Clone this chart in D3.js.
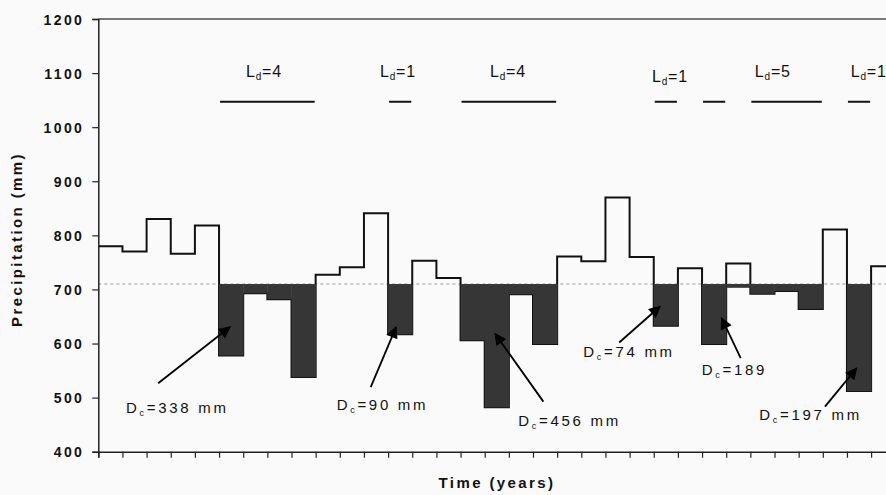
<!DOCTYPE html>
<html>
<head>
<meta charset="utf-8">
<script src="https://cdn.jsdelivr.net/npm/d3@7/dist/d3.min.js"></script>
<style>
  html, body { margin: 0; padding: 0; background: #fafafa; }
  svg { display: block; font-family: "Liberation Sans", Arial, sans-serif; }
</style>
</head>
<body>
<svg id="chart" width="886" height="495"></svg>
<script>
// ---------- data ----------
const years = d3.range(0, 33);
const precipitation = [780, 770, 830, 766, 818, 578, 693, 682, 538, 727, 741, 841, 617, 753, 721, 606, 482, 691, 599, 761, 752, 870, 760, 633, 739, 599, 748, 692, 697, 664, 811, 512, 743];
// bottom of the dark (deficit) fill for each year, null = no fill
const shadedTo = [null, null, null, null, null, 578, 693, 682, 538, null, null, null, 617, null, null, 606, 482, 691, 599, null, null, null, null, 633, null, 599, 703, 692, 697, 664, null, 512, null];
const threshold = 710;
const yTicks = [400, 500, 600, 700, 800, 900, 1000, 1100, 1200];

// drought-duration bars (start year, length in years)
const durStart = [5, 12, 15, 23, 25, 27, 31];
const durLength = [4, 1, 4, 1, 1, 3, 1];
// drought-duration labels: value, x position (years), baseline (mm)
const ldValues = ["4", "1", "4", "1", "5", "1"];
const ldX = [6.86, 12.41, 16.96, 23.67, 27.93, 31.9];
const ldY = [1092, 1092, 1092, 1083, 1092, 1092];

// cumulative deficit annotations
const dcText = ["=338 mm", "=90 mm", "=456 mm", "=74 mm", "=189", "=197 mm"];
const dcTextX = [1.15, 9.87, 17.39, 20.08, 24.99, 27.37];
const dcTextY = [472, 478, 447.6, 575.4, 542.6, 458];
const dcFromX = [2.48, 11.28, 18.43, 21.57, 26.6, 30.09];
const dcFromY = [526.7, 519.3, 492.6, 601.9, 573, 483.3];
const dcTipX = [5.45, 12.33, 16.43, 23.26, 25.81, 31.4];
const dcTipY = [630.4, 630.4, 618, 668.5, 647, 554.4];

// ---------- layout ----------
const svg = d3.select("#chart");
const mLeft = 98.3, mTop = 19, mBottom = 451.7, step = 24.15;
const x = d3.scaleLinear().domain([0, 33]).range([mLeft, mLeft + 33 * step]);
const y = d3.scaleLinear().domain([400, 1200]).range([mBottom, mTop]);

svg.append("rect").attr("width", 886).attr("height", 495).attr("fill", "#fafafa");

const defs = svg.append("defs");
defs.append("marker").attr("id", "arrow")
  .attr("viewBox", "0 0 10 10").attr("refX", 9).attr("refY", 5)
  .attr("markerUnits", "userSpaceOnUse")
  .attr("markerWidth", 15).attr("markerHeight", 12).attr("orient", "auto")
  .append("path").attr("d", "M0,0 L10,5 L0,10 Z").attr("fill", "#000");

// top border
svg.append("line").attr("x1", mLeft).attr("x2", 886).attr("y1", mTop).attr("y2", mTop)
  .attr("stroke", "#7a7a7a").attr("stroke-width", 2);

// threshold dashed line
svg.append("line").attr("x1", x(0)).attr("x2", x(33))
  .attr("y1", y(threshold)).attr("y2", y(threshold))
  .attr("stroke", "#9a9a9a").attr("stroke-width", 1).attr("stroke-dasharray", "3,3");

// step line
const pts = years.map(i => [i, precipitation[i]]).concat([[33, precipitation[32]]]);
svg.append("path")
  .attr("d", d3.line().x(d => x(d[0])).y(d => y(d[1])).curve(d3.curveStepAfter)(pts))
  .attr("fill", "none").attr("stroke", "#111").attr("stroke-width", 2);

// deficit fills (drawn over the line)
svg.append("g").selectAll("rect")
  .data(years.filter(i => shadedTo[i] !== null))
  .join("rect")
  .attr("x", i => x(i)).attr("width", i => x(i + 1) - x(i) + 0.4)
  .attr("y", y(threshold)).attr("height", i => y(shadedTo[i]) - y(threshold))
  .attr("fill", "#363636");

// axes
const yAxis = svg.append("g").attr("transform", `translate(${mLeft},0)`)
  .call(d3.axisLeft(y).tickValues(yTicks).tickSize(6).tickFormat(d3.format("d")));
yAxis.select(".domain").attr("stroke", "#222").attr("stroke-width", 1.5);
yAxis.selectAll(".tick line").attr("stroke", "#222").attr("stroke-width", 1.2);
yAxis.selectAll(".tick text")
  .attr("x", -14).attr("dy", "0.36em")
  .attr("font-size", 14).attr("font-weight", "bold").attr("letter-spacing", "2.4px")
  .attr("fill", "#111").attr("font-family", "Liberation Sans, Arial, sans-serif");

const xAxis = svg.append("g").attr("transform", `translate(0,${mBottom})`)
  .call(d3.axisBottom(x).tickValues(d3.range(0, 34)).tickSize(6).tickFormat(""));
xAxis.select(".domain").attr("stroke", "#222").attr("stroke-width", 1.5);
xAxis.selectAll(".tick line").attr("stroke", "#222").attr("stroke-width", 1.2);

// axis titles
svg.append("text")
  .attr("transform", `translate(21.5,${239.5}) rotate(-90)`)
  .attr("text-anchor", "middle").attr("font-size", 15).attr("font-weight", "bold")
  .attr("letter-spacing", "2.4px").attr("fill", "#111")
  .text("Precipitation (mm)");
svg.append("text")
  .attr("x", 497).attr("y", 488.3)
  .attr("text-anchor", "middle").attr("font-size", 15).attr("font-weight", "bold")
  .attr("letter-spacing", "2.4px").attr("fill", "#111")
  .text("Time (years)");

// duration bars
svg.append("g").selectAll("line")
  .data(durStart.map((s, k) => [s, durLength[k]]))
  .join("line")
  .attr("x1", d => x(d[0]) + 1).attr("x2", d => x(d[0] + d[1]) - 1)
  .attr("y1", y(1047)).attr("y2", y(1047))
  .attr("stroke", "#111").attr("stroke-width", 2);

// duration labels
ldValues.forEach((v, k) => {
  const t = svg.append("text").attr("x", x(ldX[k])).attr("y", y(ldY[k]))
    .attr("text-anchor", "middle").attr("font-size", 16).attr("fill", "#111")
    .attr("letter-spacing", "0.8px");
  t.append("tspan").text("L");
  t.append("tspan").attr("font-size", 10).attr("dy", 3).text("d");
  t.append("tspan").attr("dy", -3).text("=" + v);
});

// deficit annotations
dcText.forEach((s, k) => {
  svg.append("line")
    .attr("x1", x(dcFromX[k])).attr("y1", y(dcFromY[k]))
    .attr("x2", x(dcTipX[k])).attr("y2", y(dcTipY[k]))
    .attr("stroke", "#000").attr("stroke-width", 1.8)
    .attr("marker-end", "url(#arrow)");
  const t = svg.append("text").attr("x", x(dcTextX[k])).attr("y", y(dcTextY[k]))
    .attr("font-size", 15).attr("fill", "#111").attr("letter-spacing", "2.7px");
  t.append("tspan").text("D");
  t.append("tspan").attr("font-size", 9).attr("dy", 3).text("c");
  t.append("tspan").attr("dy", -3).text(s);
});
</script>
</body>
</html>
